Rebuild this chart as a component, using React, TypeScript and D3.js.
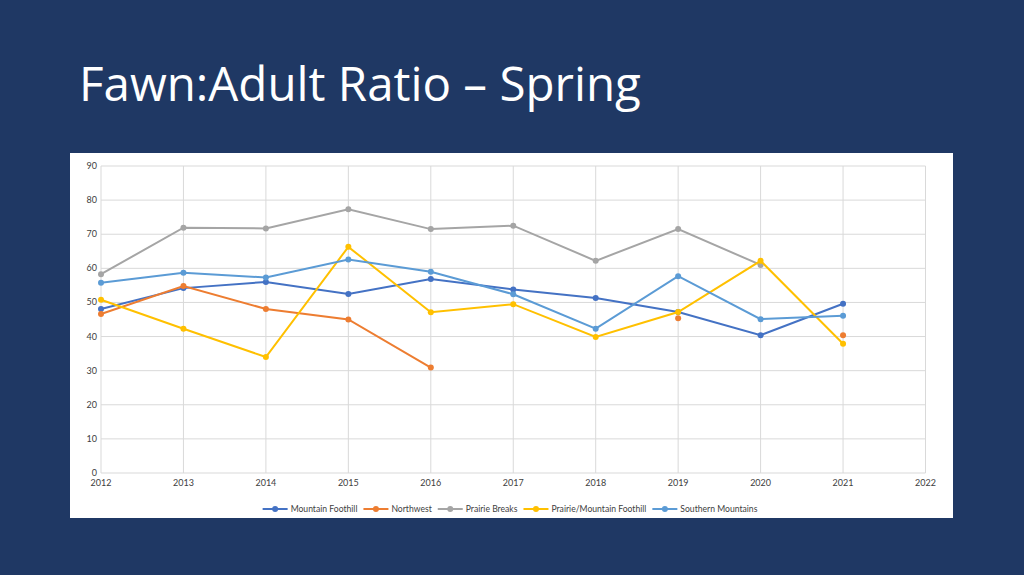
import React, { useEffect, useRef } from 'react';
import * as d3 from 'd3';

const years = [2012, 2013, 2014, 2015, 2016, 2017, 2018, 2019, 2020, 2021];

const seriesNames = [
  'Mountain Foothill',
  'Northwest',
  'Prairie Breaks',
  'Prairie/Mountain Foothill',
  'Southern Mountains',
];

const mountainFoothill = [48.1, 54.2, 56.0, 52.5, 56.9, 53.8, 51.3, 47.2, 40.4, 49.6];
const northwest = [46.6, 54.8, 48.1, 45.0, 30.9, null, null, 45.4, null, 40.4];
const prairieBreaks = [58.3, 71.9, 71.7, 77.3, 71.5, 72.5, 62.2, 71.5, 61.0, null];
const prairieMountainFoothill = [50.8, 42.3, 34.0, 66.3, 47.1, 49.5, 39.9, 47.2, 62.2, 37.9];
const southernMountains = [55.8, 58.7, 57.3, 62.6, 59.0, 52.4, 42.3, 57.7, 45.1, 46.1];

const colors = ['#4472C4', '#ED7D31', '#A5A5A5', '#FFC000', '#5B9BD5'];

const yTicks = [0, 10, 20, 30, 40, 50, 60, 70, 80, 90];
const xTicks = [2012, 2013, 2014, 2015, 2016, 2017, 2018, 2019, 2020, 2021, 2022];

export default function App() {
  const svgRef = useRef<SVGSVGElement>(null);

  useEffect(() => {
    if (!svgRef.current) return;
    const width = 1024;
    const height = 575;
    const svg = d3.select(svgRef.current);
    svg.selectAll('*').remove();

    svg.append('rect').attr('width', width).attr('height', height).attr('fill', '#1f3864');

    svg.append('text')
      .attr('x', 79)
      .attr('y', 101)
      .attr('fill', '#ffffff')
      .attr('font-family', '"Open Sans", sans-serif')
      .attr('font-size', 47.5)
      .text('Fawn:Adult Ratio – Spring');

    // chart panel
    svg.append('rect')
      .attr('x', 70).attr('y', 153)
      .attr('width', 883).attr('height', 365)
      .attr('fill', '#ffffff');

    const x = d3.scaleLinear().domain([2012, 2022]).range([101, 925.5]);
    const y = d3.scaleLinear().domain([0, 90]).range([473, 166]);

    const font = 'Lato, "Open Sans", sans-serif';
    const g = svg.append('g');

    g.selectAll('line.h')
      .data(yTicks)
      .enter()
      .append('line')
      .attr('x1', x(2012)).attr('x2', x(2022))
      .attr('y1', d => y(d)).attr('y2', d => y(d))
      .attr('stroke', '#d9d9d9').attr('stroke-width', 1);

    g.selectAll('line.v')
      .data(xTicks)
      .enter()
      .append('line')
      .attr('x1', d => x(d)).attr('x2', d => x(d))
      .attr('y1', y(0)).attr('y2', y(90))
      .attr('stroke', '#d9d9d9').attr('stroke-width', 1);

    g.selectAll('text.y')
      .data(yTicks)
      .enter()
      .append('text')
      .attr('x', 97)
      .attr('y', d => y(d) + 3)
      .attr('text-anchor', 'end')
      .attr('font-family', font)
      .attr('font-size', 9)
      .attr('fill', '#404040')
      .text(d => d);

    g.selectAll('text.x')
      .data(xTicks)
      .enter()
      .append('text')
      .attr('x', d => x(d))
      .attr('y', 486)
      .attr('text-anchor', 'middle')
      .attr('font-family', font)
      .attr('font-size', 9)
      .attr('fill', '#404040')
      .text(d => d);

    const allSeries = [mountainFoothill, northwest, prairieBreaks, prairieMountainFoothill, southernMountains];

    allSeries.forEach((vals, i) => {
      const pts = years.map((yr, j) => ({ yr, v: vals[j] }));
      const line = d3.line<{ yr: number; v: number | null }>()
        .defined(d => d.v !== null)
        .x(d => x(d.yr))
        .y(d => y(d.v as number));
      g.append('path')
        .datum(pts)
        .attr('d', line)
        .attr('fill', 'none')
        .attr('stroke', colors[i])
        .attr('stroke-width', 2);
      g.selectAll(null)
        .data(pts.filter(d => d.v !== null))
        .enter()
        .append('circle')
        .attr('cx', d => x(d.yr))
        .attr('cy', d => y(d.v as number))
        .attr('r', 3)
        .attr('fill', colors[i]);
    });

    // legend
    const legend = svg.append('g');
    const items = seriesNames.map((name, i) => {
      const it = legend.append('g');
      it.append('line').attr('x1', 0).attr('x2', 25).attr('y1', 0).attr('y2', 0)
        .attr('stroke', colors[i]).attr('stroke-width', 2);
      it.append('circle').attr('cx', 12.5).attr('cy', 0).attr('r', 3).attr('fill', colors[i]);
      const t = it.append('text')
        .attr('x', 28).attr('y', 3)
        .attr('font-family', font).attr('font-size', 8.6)
        .attr('fill', '#404040')
        .text(name);
      const w = (t.node() as SVGTextElement).getComputedTextLength();
      return { it, w: 28 + w };
    });
    const gap = 6;
    const total = d3.sum(items, d => d.w) + gap * (items.length - 1);
    let cx = 510 - total / 2;
    items.forEach(d => {
      d.it.attr('transform', `translate(${cx},509)`);
      cx += d.w + gap;
    });
  }, []);

  return (
    <svg ref={svgRef} width={1024} height={575} style={{ position: 'absolute', left: 0, top: 0 }} />
  );
}
